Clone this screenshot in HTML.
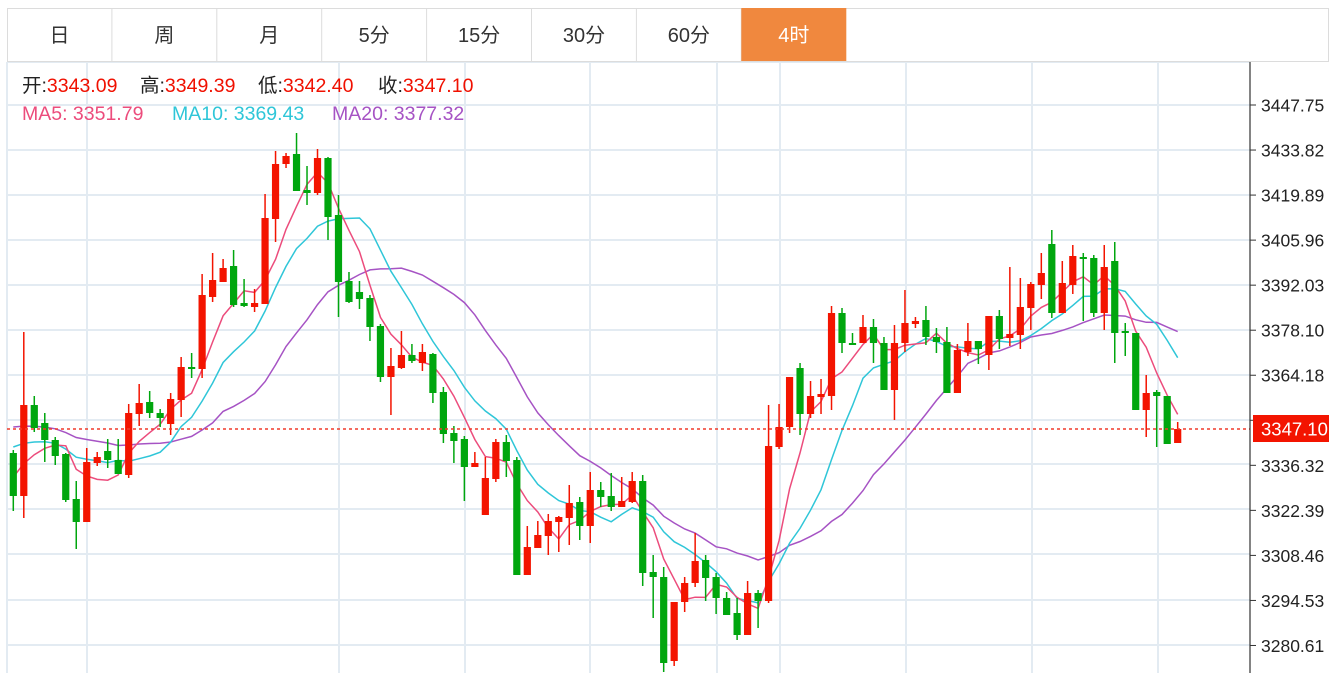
<!DOCTYPE html>
<html><head><meta charset="utf-8">
<style>
html,body{margin:0;padding:0;background:#fff;width:1329px;height:673px;overflow:hidden;font-family:"Liberation Sans","Noto Sans CJK SC",sans-serif;}
#c{position:absolute;left:0;top:0;}
</style></head>
<body>
<svg id="c" width="1329" height="673" xmlns="http://www.w3.org/2000/svg" font-family="Liberation Sans, Noto Sans CJK SC, sans-serif">
<g id="grid"></g>
<g id="tabs"></g>
<g id="ma"></g>
<g id="candles"></g>
<g id="axis"></g>
<g id="hdr">
<text x="22" y="92" font-size="19.5"><tspan fill="#222">开:</tspan><tspan fill="#f01000">3343.09</tspan></text>
<text x="140" y="92" font-size="19.5"><tspan fill="#222">高:</tspan><tspan fill="#f01000">3349.39</tspan></text>
<text x="258" y="92" font-size="19.5"><tspan fill="#222">低:</tspan><tspan fill="#f01000">3342.40</tspan></text>
<text x="378" y="92" font-size="19.5"><tspan fill="#222">收:</tspan><tspan fill="#f01000">3347.10</tspan></text>
<text x="22" y="120" font-size="19.5" fill="#ec4c7c">MA5:  3351.79</text>
<text x="172" y="120" font-size="19.5" fill="#2fc6d8">MA10:  3369.43</text>
<text x="332" y="120" font-size="19.5" fill="#a653c4">MA20:  3377.32</text>
</g>
</svg>
<script>
var NS="http://www.w3.org/2000/svg";
function el(p,t,a,txt){var e=document.createElementNS(NS,t);for(var k in a)e.setAttribute(k,a[k]);if(txt!=null)e.textContent=txt;document.getElementById(p).appendChild(e);return e;}
var hy=[62,105,150,195,240,285,330,375,420,464,509,554,600,645];
hy.forEach(function(y){el("grid","line",{x1:7,x2:1250,y1:y,y2:y,stroke:"#e3ebf2","stroke-width":2});});
[7,87,339,465,590,717,780,906,1032,1158].forEach(function(x){el("grid","line",{x1:x,x2:x,y1:62,y2:673,stroke:"#e3ebf2","stroke-width":2});});
var tabs=["日","周","月","5分","15分","30分","60分","4时"];
el("tabs","rect",{x:7.5,y:8.5,width:1321,height:53,fill:"none",stroke:"#dcdcdc"});
for(var i=0;i<8;i++){var x0=7+i*104.9;
 if(i==7){el("tabs","rect",{x:x0,y:8,width:105,height:53,fill:"#f0883e"});}
 else el("tabs","line",{x1:x0+104.9,x2:x0+104.9,y1:8,y2:61,stroke:"#dcdcdc"});
 el("tabs","text",{x:x0+52.5,y:42,"font-size":20,"text-anchor":"middle",fill:i==7?"#fff":"#333"},tabs[i]);}
var D=[["g",453,496,450,511],["r",405,496,332,518],["g",405,428,396,432],["g",423,440,413,462],["g",440,456,437,465],["g",454,500,453,502],["g",499,522,481,549],["r",462,522,448,522],["r",457,463,452,466],["g",451,460,439,468],
["g",460,474,439,474],["r",413,475,404,478],["r",403,414,384,426],["g",402,413,391,418],["g",413,418,409,427],["r",399,424,393,435],["r",367,400,357,417],["g",367,369,353,378],["r",295,369,274,378],["r",280,297,253,302],
["r",268,282,259,282],["g",266,305,250,307],["g",303,306,279,307],["r",303,307,289,312],["r",218,304,194,304],["r",164,219,151,242],["r",156,164,153,168],["g",154,191,133,191],["g",190,193,166,205],["r",158,193,149,195],
["g",158,217,157,240],["g",215,282,195,317],["g",281,302,272,303],["g",292,299,281,309],["g",298,327,295,341],["g",326,377,324,382],["r",366,377,348,415],["r",355,368,331,369],["g",355,361,344,363],["r",352,363,344,371],
["g",354,393,353,403],["g",392,434,387,443],["g",433,441,426,463],["g",439,467,436,501],["r",463,467,452,467],["r",478,515,457,515],["r",442,479,439,482],["g",442,461,435,477],["g",460,575,457,575],["r",547,575,526,575],
["r",535,548,521,548],["r",521,536,514,555],["r",517,522,516,552],["r",503,518,485,545],["g",502,526,497,540],["r",490,526,472,543],["g",490,497,482,507],["g",496,507,473,511],["r",501,507,477,507],["r",481,502,472,503],
["g",481,573,475,586],["g",572,577,555,618],["g",577,663,567,672],["r",602,661,602,666],["r",583,602,577,612],["r",561,583,533,587],["g",560,578,555,601],["g",577,598,573,614],["g",598,615,592,615],["g",613,635,598,640],
["r",593,635,581,635],["g",593,601,590,628],["r",446,601,405,603],["r",427,447,404,449],["r",377,427,377,433],["g",368,414,363,435],["r",396,414,381,418],["r",394,397,379,414],["r",313,396,306,410],["g",313,343,308,353],
["g",343,345,333,345],["r",327,343,315,343],["g",327,343,319,363],["g",343,390,337,390],["r",343,390,325,420],["r",323,343,290,352],["r",321,324,317,328],["g",320,337,306,345],["g",337,342,328,353],["g",342,393,327,393],
["r",350,393,344,393],["r",341,352,323,356],["g",341,349,341,364],["r",316,355,316,370],["g",316,339,310,349],["r",334,338,267,346],["r",307,335,278,349],["r",284,308,282,330],["r",273,285,253,299],["g",244,313,230,318],
["r",283,313,261,313],["r",256,285,245,294],["g",257,259,253,321],["g",258,313,255,317],["r",267,313,245,330],["g",261,333,242,363],["g",331,333,323,356],["g",333,410,333,410],["r",393,410,375,437],["g",392,396,390,447],
["g",396,444,396,444],["r",429,443,422,443]];
var X=function(i){return 13.3+i*10.49;};
var closes=[];
D.forEach(function(d,i){var x=X(i),c=d[0]=="r"?"#f31400":"#00a60e";
 el("candles","line",{x1:x,x2:x,y1:d[3],y2:d[4],stroke:c,"stroke-width":1.5});
 el("candles","rect",{x:x-3.6,y:d[1],width:7.2,height:Math.max(1.5,d[2]-d[1]),fill:c});
 closes.push(d[0]=="r"?d[1]:d[2]);});
function ma(n,target,col){
 var pad=(target*n-closes[0])/(n-1);var pts=[];
 for(var i=0;i<closes.length;i++){var s=0;for(var k=i-n+1;k<=i;k++)s+=k<0?pad:closes[k];pts.push(X(i).toFixed(1)+","+(s/n).toFixed(1));}
 el("ma","polyline",{points:pts.join(" "),fill:"none",stroke:col,"stroke-width":1.5});}
ma(20,427,"#a653c4");ma(10,447,"#2fc6d8");ma(5,477,"#ec4c7c");
el("axis","line",{x1:7,x2:1250,y1:429,y2:429,stroke:"#f03a2a","stroke-width":1.5,"stroke-dasharray":"3,3"});
el("axis","line",{x1:1250,x2:1250,y1:62,y2:673,stroke:"#333","stroke-width":1.2});
var labs=["3447.75","3433.82","3419.89","3405.96","3392.03","3378.10","3364.18","3350.25","3336.32","3322.39","3308.46","3294.53","3280.61"];
labs.forEach(function(l,i){var y=105+i*45.04;
 el("axis","line",{x1:1250,x2:1256,y1:y,y2:y,stroke:"#333"});
 el("axis","text",{x:1261,y:y+6.5,"font-size":17.5,fill:"#222"},l);});
el("axis","rect",{x:1253,y:415,width:76,height:27,fill:"#f31400"});
el("axis","text",{x:1261,y:435.5,"font-size":18.5,fill:"#fff"},"3347.10");
</script>
</body></html>
